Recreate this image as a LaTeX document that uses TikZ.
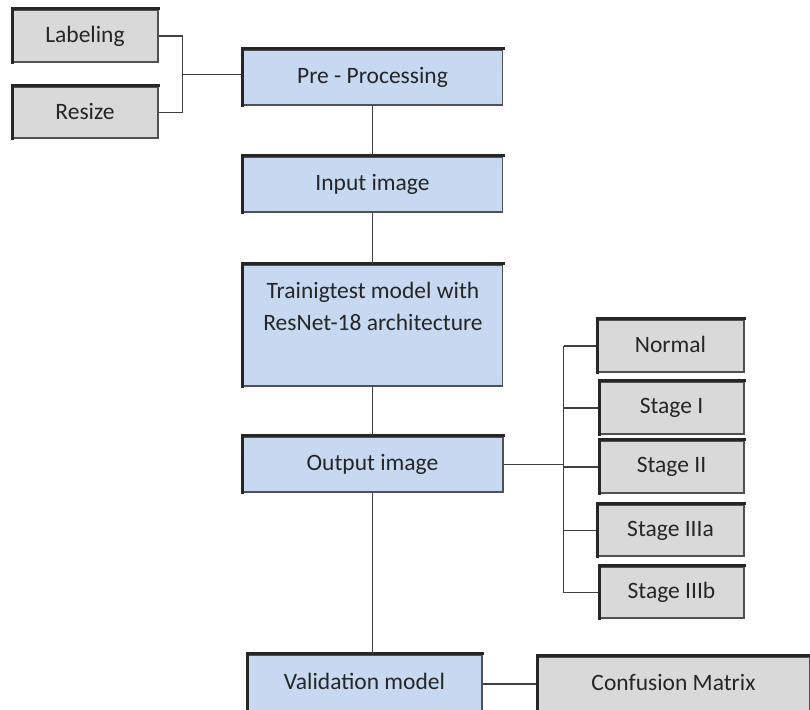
\documentclass[tikz,border=0pt]{standalone}
\usepackage{fontspec}
\setmainfont{Carlito}
\definecolor{boxblue}{HTML}{C6D9F1}
\definecolor{boxgrey}{HTML}{D9D9D9}
\definecolor{edge}{HTML}{262626}
\begin{document}
\begin{tikzpicture}[x=1pt,y=-1pt,
  base/.style={draw=edge!80, line width=1.2pt, inner sep=0pt, font=\fontsize{23.5}{26}\selectfont, text=black!85},
  bluebox/.style={base, fill=boxblue},
  greybox/.style={base, fill=boxgrey},
  conn/.style={draw=black!75, line width=1.3pt}]
\useasboundingbox (0,0) rectangle (810,709);
% left inputs
\node[greybox, minimum width=146pt, minimum height=52pt] (lab) at (85,36) {\raisebox{3pt}{Labeling}};
\node[greybox, minimum width=146pt, minimum height=51pt] (res) at (85,112.5) {\raisebox{3pt}{Resize}};
% main column
\node[bluebox, minimum width=260pt, minimum height=55pt] (pre) at (372.5,77.5) {\raisebox{3pt}{Pre - Processing}};
\node[bluebox, minimum width=260pt, minimum height=55pt] (inp) at (372.5,184.5) {\raisebox{3pt}{Input image}};
\node[bluebox, minimum width=260pt, minimum height=121pt] (train) at (372.5,325.5) {};
\node[font=\fontsize{23.5}{32}\selectfont, text=black!85, align=center, inner sep=0pt] (traintext) at (373,306) {Trainigtest model with\\ResNet-18 architecture};
\node[bluebox, minimum width=261pt, minimum height=55pt] (out) at (372.5,464.5) {\raisebox{2pt}{Output image}};
\node[bluebox, minimum width=235pt, minimum height=56pt] (val) at (364.5,683) {\raisebox{3pt}{Validation model}};
\node[greybox, minimum width=273pt, minimum height=54pt] (conf) at (673.5,684) {\raisebox{3pt}{Confusion Matrix}};
% stages
\node[greybox, minimum width=147pt, minimum height=52pt] (s0) at (670.5,346) {\raisebox{3pt}{Normal}};
\node[greybox, minimum width=145pt, minimum height=52pt] (s1) at (671.5,408) {\raisebox{3pt}{Stage I}};
\node[greybox, minimum width=145pt, minimum height=52pt] (s2) at (671.5,467) {\raisebox{3pt}{Stage II}};
\node[greybox, minimum width=147pt, minimum height=51pt] (s3) at (670.5,530.5) {\raisebox{3pt}{Stage IIIa}};
\node[greybox, minimum width=145pt, minimum height=51pt] (s4) at (671.5,592.5) {\raisebox{3pt}{Stage IIIb}};
% thick top/left borders
\foreach \n in {lab,res,pre,inp,train,out,val,conf,s0,s1,s2,s3,s4}{
  \draw[black!85, line width=3pt, line cap=rect] ([xshift=1pt]\n.south west) -- ([xshift=1pt,yshift=1pt]\n.north west) -- ([yshift=1pt]\n.north east);
}
% connectors
\coordinate (jl) at (182.5,74.5);
\draw[conn] (lab.east) -| (jl);
\draw[conn] (res.east) -| (jl);
\draw[conn] (jl) -- (jl -| pre.west);
\draw[conn] (pre.south) -- (inp.north);
\draw[conn] (inp.south) -- (train.north);
\draw[conn] (train.south) -- (out.north);
\draw[conn] (out.south) -- (out.south |- val.north);
\coordinate (jr) at (563.5,464.5);
\draw[conn] (out.east) -- (jr);
\foreach \s in {s0,s1,s2,s3,s4}{
  \draw[conn] (jr |- \s.west) -- (\s.west);
}
\draw[conn] (jr |- s0.west) -- (jr |- s4.west);
\draw[conn] (val.east |- conf.west) -- (conf.west);
\end{tikzpicture}
\end{document}
